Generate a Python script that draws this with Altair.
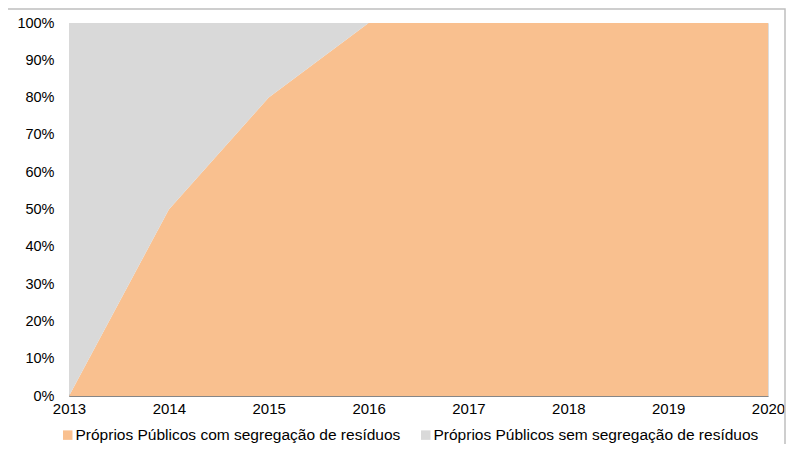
import altair as alt
import pandas as pd

years = [2013, 2014, 2015, 2016, 2017, 2018, 2019, 2020]
com = [0, 50, 80, 100, 100, 100, 100, 100]
sem = [100, 50, 20, 0, 0, 0, 0, 0]
s_com = "Próprios Públicos com segregação de resíduos"
s_sem = "Próprios Públicos sem segregação de resíduos"

rows = []
for y, a, b in zip(years, com, sem):
    rows.append({"ano": y, "serie": s_com, "valor": a, "ordem": 0})
    rows.append({"ano": y, "serie": s_sem, "valor": b, "ordem": 1})
df = pd.DataFrame(rows)

font = "Liberation Sans"

area = alt.Chart(df).mark_area(opacity=1).encode(
    x=alt.X("ano:Q", scale=alt.Scale(domain=[2013, 2020], nice=False, zero=False),
            axis=alt.Axis(values=years, format="d", title=None, ticks=False,
                          domainColor="#868686", labelFontSize=15, labelColor="#000000",
                          labelPadding=5, grid=False, labelFont=font, labelFlush=False)),
    y=alt.Y("valor:Q", stack="normalize",
            scale=alt.Scale(domain=[0, 1]),
            axis=alt.Axis(values=[i / 10 for i in range(11)], format=".0%", title=None,
                          ticks=False, domainColor="#868686", labelFontSize=14.5,
                          labelColor="#000000", labelPadding=15, grid=False, labelFont=font)),
    color=alt.Color("serie:N",
                    scale=alt.Scale(domain=[s_com, s_sem], range=["#F9C08F", "#D9D9D9"]),
                    legend=alt.Legend(title=None, orient="none", legendX=-9, legendY=404,
                                      direction="horizontal", symbolType="square",
                                      symbolSize=90, symbolStrokeWidth=0,
                                      labelFontSize=15.5, labelFont=font, labelColor="#000000",
                                      columnPadding=17, symbolOffset=0, labelOffset=0,
                                      labelLimit=500)),
    order=alt.Order("ordem:Q"),
)

border = alt.Chart(pd.DataFrame({"a": [0]})).mark_rect(
    filled=False, stroke="#BFBFBF", strokeWidth=1.5
).encode(x=alt.value(-62), x2=alt.value(716), y=alt.value(-14), y2=alt.value(460))

chart = alt.layer(border, area).properties(
    width=699, height=373,
    padding={"left": 61, "top": 15, "right": 18, "bottom": 48},
    autosize="none",
).configure_view(stroke=None).configure(background="#FFFFFF")

chart.save("out.html", embed_options={"renderer": "svg", "actions": False})
